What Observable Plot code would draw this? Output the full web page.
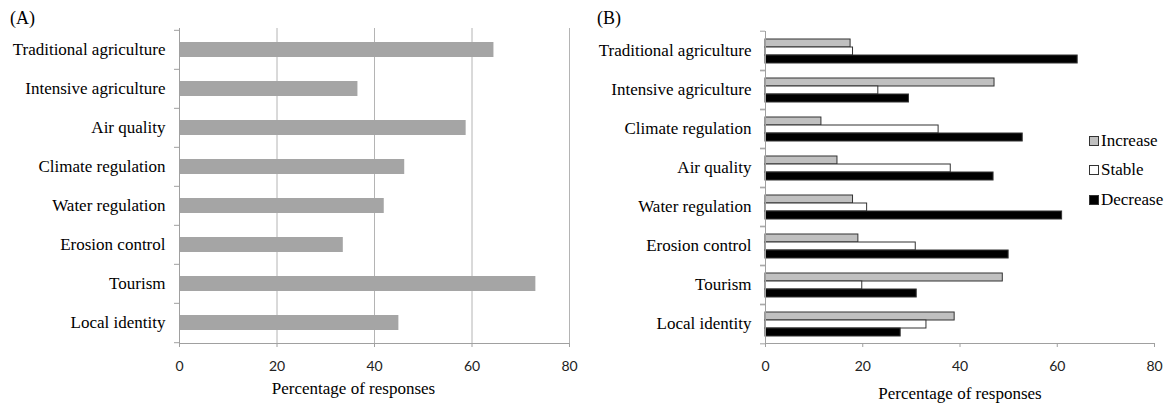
<!DOCTYPE html>
<html>
<head>
<meta charset="utf-8">
<script src="https://cdn.jsdelivr.net/npm/d3@7"></script>
<script src="https://cdn.jsdelivr.net/npm/@observablehq/plot@0.6"></script>
<style>
  html, body { margin: 0; padding: 0; background: #fff; }
  #root { position: relative; width: 1166px; height: 406px; overflow: hidden; background: #fff; }
  .panel { position: absolute; top: 0; }
  .tag { position: absolute; font-family: "Liberation Serif", "Times New Roman", serif; font-size: 18px; color: #000; }
  .legend { position: absolute; left: 1089px; font-family: "Liberation Serif", "Times New Roman", serif; font-size: 17px; color: #000; }
  .legend div { position: absolute; display: flex; align-items: center; white-space: nowrap; height: 20px; }
  .legend span.sw { display: inline-block; width: 8px; height: 8px; border: 1px solid #333; margin-right: 2px; }
</style>
</head>
<body>
<div id="root">
  <div class="tag" style="left:10px; top:8px;">(A)</div>
  <div class="tag" style="left:597px; top:8px;">(B)</div>
  <div id="panelA" class="panel" style="left:0px;"></div>
  <div id="panelB" class="panel" style="left:580px;"></div>
  <div class="legend" id="legend"></div>
</div>
<script>
// ---- data ----
const categoriesA = ["Traditional agriculture", "Intensive agriculture", "Air quality", "Climate regulation",
  "Water regulation", "Erosion control", "Tourism", "Local identity"];
const valuesA = [64.5, 36.6, 58.8, 46.2, 42.0, 33.6, 73.1, 45.0];

const categoriesB = ["Traditional agriculture", "Intensive agriculture", "Climate regulation", "Air quality",
  "Water regulation", "Erosion control", "Tourism", "Local identity"];
const seriesB = ["Increase", "Stable", "Decrease"];
const increaseB = [17.5, 47.1, 11.5, 14.8, 18.0, 19.1, 48.8, 38.9];
const stableB   = [18.0, 23.2, 35.6, 38.1, 20.9, 30.9, 19.9, 33.1];
const decreaseB = [64.2, 29.5, 52.9, 46.9, 61.0, 50.0, 31.1, 27.8];

const xTicks = [0, 20, 40, 60, 80];
const xTitle = "Percentage of responses";

// ---- styles ----
const serif = "'Liberation Serif', 'Times New Roman', serif";
const sans = "Lato, 'Open Sans', sans-serif";
const axisGray = "#a0a0a0";
const fills = {Increase: "#c0c0c0", Stable: "#ffffff", Decrease: "#000000"};

// ---- panel A ----
const dataA = categoriesA.map((c, i) => ({category: c, value: valuesA[i]}));
const HA = 406, mtA = 28, mbA = 63;
const stepA = (HA - mtA - mbA) / categoriesA.length;
const lastA = categoriesA[categoriesA.length - 1];

const chartA = Plot.plot({
  width: 580, height: HA,
  marginLeft: 179, marginRight: 11, marginTop: mtA, marginBottom: mbA,
  style: {background: "transparent", overflow: "visible"},
  x: {domain: [0, 80], axis: null},
  y: {domain: categoriesA, paddingInner: 0.62, paddingOuter: 0.31, axis: null},
  marks: [
    Plot.gridX(xTicks.slice(1), {stroke: "#b4b4b4", strokeOpacity: 1}),
    Plot.barX(dataA, {x: "value", y: "category", fill: "#a5a5a5"}),
    Plot.ruleX([0], {stroke: axisGray}),
    Plot.frame({anchor: "bottom", stroke: axisGray}),
    Plot.axisX(xTicks, {tickSize: 4, tickPadding: 14, stroke: axisGray, fontSize: 14, fontFamily: sans, fill: "#222", label: null}),
    Plot.axisY({tickSize: 0, tickPadding: 14, fontSize: 17, fontFamily: serif, fill: "#000", label: null}),
    Plot.axisY({text: null, tickSize: 5, dy: -stepA / 2, stroke: axisGray, label: null}),
    Plot.axisY([lastA], {text: null, tickSize: 5, dy: stepA / 2, stroke: axisGray, label: null}),
    Plot.text([xTitle], {frameAnchor: "bottom", dy: 45, dx: -21, lineAnchor: "middle", fontSize: 17, fontFamily: serif, fill: "#000"})
  ]
});
document.getElementById("panelA").appendChild(chartA);

// ---- panel B ----
const dataB = categoriesB.flatMap((c, i) => [
  {category: c, series: "Increase", value: increaseB[i]},
  {category: c, series: "Stable", value: stableB[i]},
  {category: c, series: "Decrease", value: decreaseB[i]}
]);
const HB = 406, mtB = 28, mbB = 61;
const stepB = (HB - mtB - mbB) / categoriesB.length;
const lastB = categoriesB[categoriesB.length - 1];

const chartB = Plot.plot({
  width: 586, height: HB,
  marginLeft: 185, marginRight: 12, marginTop: mtB, marginBottom: mbB,
  style: {background: "transparent", overflow: "visible"},
  x: {domain: [0, 80], axis: null},
  fy: {domain: categoriesB, padding: 0, axis: null},
  y: {domain: seriesB, paddingInner: 0, paddingOuter: 0.78, axis: null},
  marks: [
    Plot.barX(dataB, {fy: "category", y: "series", x: "value", fill: d => fills[d.series], stroke: "#333", strokeWidth: 1}),
    Plot.ruleX([0], {stroke: axisGray}),
    Plot.frame({anchor: "bottom", stroke: axisGray, fy: () => lastB}),
    Plot.axisX(xTicks, {tickSize: 4, tickPadding: 14, stroke: axisGray, fontSize: 14, fontFamily: sans, fill: "#222", label: null}),
    Plot.axisFy({anchor: "left", tickSize: 0, tickPadding: 14, fontSize: 17, fontFamily: serif, fill: "#000", label: null}),
    Plot.axisFy({anchor: "left", text: null, tickSize: 5, dy: -stepB / 2, stroke: axisGray, label: null}),
    Plot.axisFy([lastB], {anchor: "left", text: null, tickSize: 5, dy: stepB / 2, stroke: axisGray, label: null}),
    Plot.text([xTitle], {fy: () => lastB, frameAnchor: "bottom", dy: 50, lineAnchor: "middle", fontSize: 17, fontFamily: serif, fill: "#000"})
  ]
});
document.getElementById("panelB").appendChild(chartB);

// ---- legend for panel B ----
const legend = document.getElementById("legend");
const legendTops = {Increase: 131, Stable: 160, Decrease: 190};
seriesB.forEach(s => {
  const row = document.createElement("div");
  row.style.top = legendTops[s] + "px";
  const sw = document.createElement("span");
  sw.className = "sw";
  sw.style.background = fills[s];
  row.appendChild(sw);
  row.appendChild(document.createTextNode(s));
  legend.appendChild(row);
});
</script>
</body>
</html>
